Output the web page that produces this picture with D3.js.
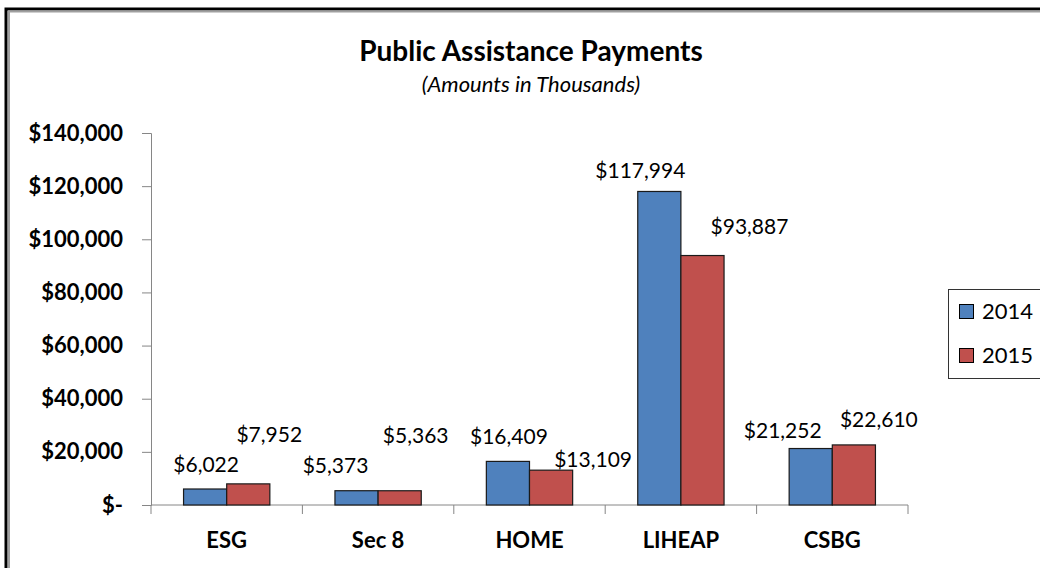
<!DOCTYPE html>
<html>
<head>
<meta charset="utf-8">
<script src="https://cdn.jsdelivr.net/npm/d3@7"></script>
<style>
  body { margin: 0; background: #fff; }
  svg { display: block; }
</style>
</head>
<body>
<script>
// data
var categories = ["ESG", "Sec 8", "HOME", "LIHEAP", "CSBG"];
var years = ["2014", "2015"];
var values2014 = [6022, 5373, 16409, 117994, 21252];
var values2015 = [7952, 5363, 13109, 93887, 22610];
var yTicks = [0, 20000, 40000, 60000, 80000, 100000, 120000, 140000];
var colors = ["#4F81BD", "#C0504D"];
// label nudges (dx from bar centre, dy from bar top to baseline)
var labelShift2014 = [[1, -17], [-21, -18], [1, -17], [-19, -13], [-28, -11]];
var labelShift2015 = [[21, -42], [16, -48], [42, -3], [47, -22], [25, -18]];

var W = 1040, H = 568;
var font = "Lato, 'Open Sans', sans-serif";
var margin = { left: 151, right: 132, top: 133, bottom: 63 };

var svg = d3.select("body")
    .append("svg")
    .attr("width", W)
    .attr("height", H);

//外枠
svg.append("rect")
    .attr("x", 6).attr("y", 9)
    .attr("width", 1200).attr("height", 800)
    .attr("fill", "#fff")
    .attr("stroke", "#000")
    .attr("stroke-width", 3);
svg.append("rect")
    .attr("x", 9).attr("y", 11.5)
    .attr("width", 1200).attr("height", 800)
    .attr("fill", "none")
    .attr("stroke", "#a0a0a0")
    .attr("stroke-width", 2);

//タイトル
svg.append("text")
    .text("Public Assistance Payments")
    .attr("x", 531).attr("y", 61)
    .attr("text-anchor", "middle")
    .attr("font-family", font)
    .attr("font-weight", "bold")
    .attr("font-size", "28px");
svg.append("text")
    .text("(Amounts in Thousands)")
    .attr("x", 531).attr("y", 92)
    .attr("text-anchor", "middle")
    .attr("font-family", font)
    .attr("font-style", "italic")
    .attr("font-size", "22px");

var x0 = d3.scaleBand()
    .domain(categories)
    .range([margin.left, W - margin.right])
    .paddingInner(0.43)
    .paddingOuter(0.215);
// axis ticks sit at band boundaries
var step = (W - margin.right - margin.left) / categories.length;
var x1 = d3.scaleBand()
    .domain(years)
    .range([0, x0.bandwidth()]);
var y = d3.scaleLinear()
    .domain([0, 140000])
    .range([H - margin.bottom, margin.top]);

//Y軸
var yAxis = d3.axisLeft(y)
    .tickValues(yTicks)
    .tickSize(9)
    .tickPadding(19)
    .tickFormat(function (d) {
    return d === 0 ? "$-" : d3.format("$,")(d);
});
var gy = svg.append("g")
    .attr("transform", "translate(" + margin.left + ",0)")
    .call(yAxis);
gy.select(".domain").attr("stroke", "#868686");
gy.selectAll(".tick line").attr("stroke", "#868686");
gy.selectAll(".tick text")
    .attr("font-family", font)
    .attr("font-weight", "bold")
    .attr("font-size", "22px")
    .attr("fill", "#000");

//X軸
var baseY = y(0);
svg.append("line")
    .attr("x1", margin.left).attr("x2", W - margin.right)
    .attr("y1", baseY).attr("y2", baseY)
    .attr("stroke", "#868686");
svg.selectAll(".xtick")
    .data(d3.range(categories.length + 1))
    .enter()
    .append("line")
    .attr("class", "xtick")
    .attr("x1", function (i) { return margin.left + i * step; })
    .attr("x2", function (i) { return margin.left + i * step; })
    .attr("y1", baseY)
    .attr("y2", baseY + 9)
    .attr("stroke", "#868686");
svg.selectAll(".xlabel")
    .data(categories)
    .enter()
    .append("text")
    .attr("class", "xlabel")
    .text(function (d) { return d; })
    .attr("x", function (d) { return x0(d) + x0.bandwidth() / 2; })
    .attr("y", 548)
    .attr("text-anchor", "middle")
    .attr("font-family", font)
    .attr("font-weight", "bold")
    .attr("font-size", "22px");

//棒
var rows = [];
categories.forEach(function (c, i) {
    rows.push({ cat: c, year: "2014", v: values2014[i], shift: labelShift2014[i], color: colors[0] });
    rows.push({ cat: c, year: "2015", v: values2015[i], shift: labelShift2015[i], color: colors[1] });
});
svg.selectAll(".bar")
    .data(rows)
    .enter()
    .append("rect")
    .attr("class", "bar")
    .attr("x", function (d) { return x0(d.cat) + x1(d.year); })
    .attr("y", function (d) { return y(d.v); })
    .attr("width", x1.bandwidth())
    .attr("height", function (d) { return baseY - y(d.v); })
    .attr("fill", function (d) { return d.color; })
    .attr("stroke", "#1a1a1a")
    .attr("stroke-width", 1.2);

svg.selectAll(".vlabel")
    .data(rows)
    .enter()
    .append("text")
    .attr("class", "vlabel")
    .text(function (d) { return d3.format("$,")(d.v); })
    .attr("x", function (d) { return x0(d.cat) + x1(d.year) + x1.bandwidth() / 2 + d.shift[0]; })
    .attr("y", function (d) { return y(d.v) + d.shift[1]; })
    .attr("text-anchor", "middle")
    .attr("font-family", font)
    .attr("font-size", "21px")
    .attr("fill", "#000");

//凡例
var legend = svg.append("g");
legend.append("rect")
    .attr("x", 948.5).attr("y", 289.5)
    .attr("width", 200).attr("height", 89)
    .attr("fill", "#fff")
    .attr("stroke", "#333");
years.forEach(function (yr, i) {
    legend.append("rect")
        .attr("x", 959.5).attr("y", 304.5 + i * 44)
        .attr("width", 14).attr("height", 14)
        .attr("fill", colors[i])
        .attr("stroke", "#000");
    legend.append("text")
        .text(yr)
        .attr("x", 982).attr("y", 319 + i * 44)
        .attr("font-family", font)
        .attr("font-size", "22px");
});
</script>
</body>
</html>
